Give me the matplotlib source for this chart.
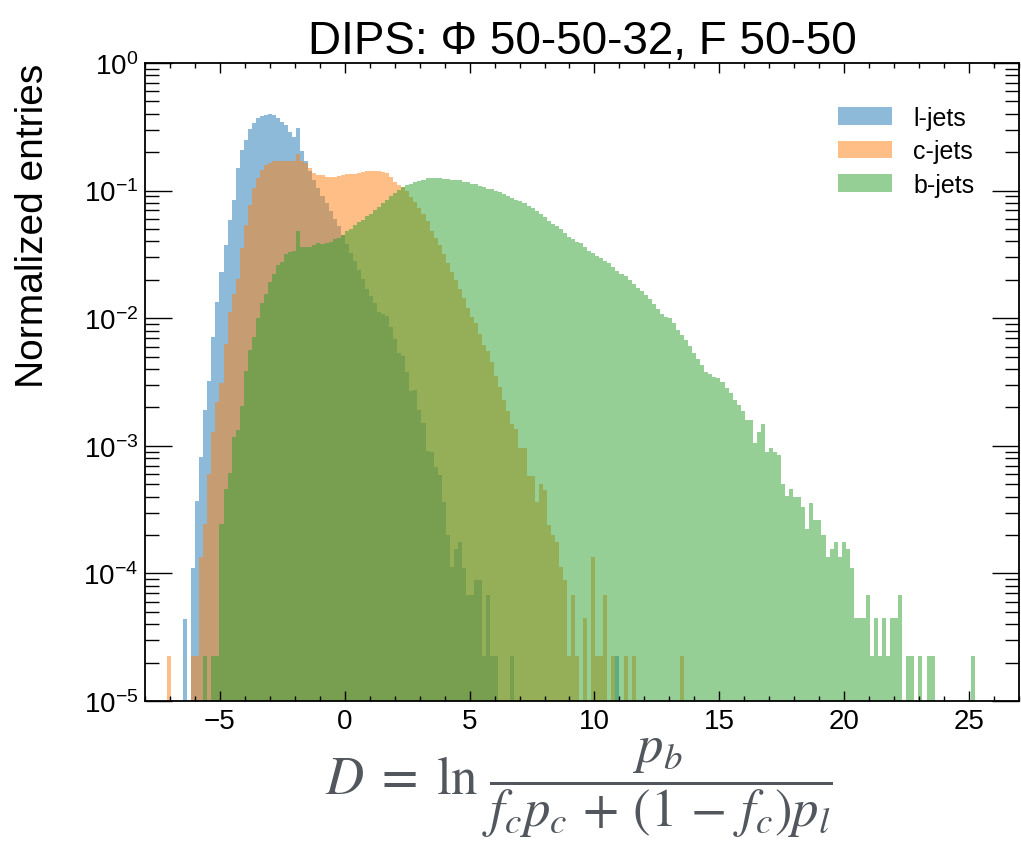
import numpy as np
import matplotlib
matplotlib.use("Agg")
import matplotlib.pyplot as plt
from matplotlib.ticker import MultipleLocator, LogLocator, NullFormatter

plt.rcParams["font.family"] = ["Liberation Sans", "DejaVu Sans"]
plt.rcParams["mathtext.fontset"] = "custom"
plt.rcParams["mathtext.rm"] = "Liberation Sans"
plt.rcParams["mathtext.it"] = "Liberation Sans:italic"
plt.rcParams["mathtext.bf"] = "Liberation Sans:bold"

# 直方图分箱（200 个等宽箱）
BIN_LO, BIN_HI, N_BINS = -7.12, 25.24, 200

# 各类喷注的归一化条目（log10），从第 first 个箱开始连续
l_first = 6
l_log = [
    -3.96, -3.43, -3.09, -2.72, -2.49, -2.15, -1.87, -1.64, -1.43, -1.23,
    -1.07, -0.82, -0.68, -0.60, -0.52, -0.47, -0.43, -0.415, -0.405, -0.40,
    -0.41, -0.43, -0.46, -0.49, -0.54, -0.58, -0.51, -0.69, -0.77, -0.85,
    -0.915, -0.98, -1.04, -1.10, -1.16, -1.22, -1.28, -1.35, -1.42, -1.49,
    -1.55, -1.62, -1.69, -1.77, -1.83, -1.88, -1.95, -1.97, -1.98, -2.07,
    -2.16, -2.27, -2.30, -2.42, -2.57, -2.56, -2.72, -2.82, -3.04, -3.05,
    -3.17, -3.23, -3.44, -3.70, -3.95, -3.81, -3.75, -3.96, -4.17, -4.17,
    -4.05, -4.05, -4.65, -4.17, -4.65, -4.65,
]
l_sparse_bins = [4, 85, 111]
l_sparse_log = [-4.36, -4.65, -4.65]

c_first = 6
c_log = [
    -4.65, -4.65, -3.87, -3.61, -3.22, -2.89, -2.66, -2.51, -2.20, -1.95,
    -1.81, -1.69, -1.45, -1.27, -1.11, -0.98, -0.90, -0.84, -0.80, -0.78,
    -0.77, -0.765, -0.765, -0.77, -0.77, -0.77, -0.71, -0.77, -0.78, -0.82,
    -0.86, -0.875, -0.88, -0.89, -0.89, -0.89, -0.885, -0.877, -0.87, -0.87,
    -0.87, -0.86, -0.857, -0.85, -0.85, -0.845, -0.85, -0.855, -0.86, -0.89,
    -0.93, -0.955, -0.97, -1.00, -1.05, -1.09, -1.14, -1.18, -1.24, -1.32,
    -1.37, -1.43, -1.50, -1.57, -1.64, -1.70, -1.77, -1.84, -1.92, -1.99,
    -2.04, -2.12, -2.21, -2.26, -2.34, -2.45, -2.54, -2.64, -2.73, -2.83,
    -2.87, -3.02, -3.02, -3.24, -3.24, -3.44, -3.30, -3.35, -3.62, -3.70,
    -3.75, -3.95, -4.05, -4.65, -4.17, -4.65,
]
c_sparse_bins = [0, 103, 105, 106, 107, 108, 110, 113, 115, 127]
c_sparse_log = [-4.65, -4.35, -3.87, -4.65, -4.65, -4.17, -4.65, -4.65, -4.65, -4.65]

b_first = 11
b_log = [
    -4.65, -4.65, -3.61, -3.34, -3.21, -2.93, -2.88, -2.69, -2.41, -2.25,
    -2.15, -2.00, -1.88, -1.81, -1.72, -1.65, -1.58, -1.56, -1.50, -1.48,
    -1.47, -1.32, -1.44, -1.44, -1.44, -1.43, -1.41, -1.42, -1.41, -1.40,
    -1.38, -1.37, -1.35, -1.32, -1.30, -1.27, -1.25, -1.23, -1.20, -1.18,
    -1.15, -1.13, -1.10, -1.07, -1.04, -1.02, -0.995, -0.975, -0.96, -0.945,
    -0.935, -0.925, -0.915, -0.905, -0.90, -0.90, -0.905, -0.91, -0.91, -0.915,
    -0.915, -0.92, -0.93, -0.935, -0.945, -0.95, -0.965, -0.975, -0.985, -0.99,
    -1.005, -1.015, -1.03, -1.045, -1.06, -1.07, -1.085, -1.10, -1.12, -1.14,
    -1.16, -1.18, -1.21, -1.24, -1.26, -1.28, -1.30, -1.33, -1.36, -1.38,
    -1.40, -1.41, -1.44, -1.47, -1.49, -1.51, -1.53, -1.55, -1.57, -1.60,
    -1.63, -1.65, -1.67, -1.70, -1.73, -1.76, -1.79, -1.82, -1.85, -1.89,
    -1.93, -1.97, -1.99, -2.00, -2.04, -2.09, -2.13, -2.17, -2.22, -2.27,
    -2.32, -2.37, -2.42, -2.44, -2.46, -2.47, -2.50, -2.55, -2.59, -2.64,
    -2.68, -2.73, -2.80, -2.80, -2.98, -2.89, -2.83, -3.05, -3.02, -3.05,
    -3.07, -3.30, -3.39, -3.34, -3.40, -3.40, -3.48, -3.65, -3.45, -3.58,
    -3.58, -3.70, -3.87, -3.81, -3.75, -3.87, -3.75, -3.81, -3.96, -4.35,
    -4.35, -4.35, -4.17, -4.65, -4.35, -4.65, -4.35, -4.65, -4.35, -4.35,
    -4.17,
]
b_sparse_bins = [9, 183, 184, 186, 188, 189, 199]
b_sparse_log = [-4.65, -4.65, -4.65, -4.65, -4.65, -4.65, -4.65]

labels = ["l-jets", "c-jets", "b-jets"]
colors = ["tab:blue", "tab:orange", "tab:green"]


def to_heights(first, logs, sparse_bins, sparse_logs):
    h = np.zeros(N_BINS)
    h[first:first + len(logs)] = 10.0 ** np.array(logs)
    h[sparse_bins] = 10.0 ** np.array(sparse_logs)
    return h


edges = np.linspace(BIN_LO, BIN_HI, N_BINS + 1)
centers = 0.5 * (edges[:-1] + edges[1:])
series = [
    to_heights(l_first, l_log, l_sparse_bins, l_sparse_log),
    to_heights(c_first, c_log, c_sparse_bins, c_sparse_log),
    to_heights(b_first, b_log, b_sparse_bins, b_sparse_log),
]

fig = plt.figure(figsize=(10.21, 8.45), dpi=100)
ax = fig.add_axes([0.142, 0.1692, 0.856, 0.7551])

for h, lab, col in zip(series, labels, colors):
    ax.hist(centers, bins=edges, weights=h, histtype="stepfilled",
            alpha=0.5, color=col, label=lab, log=True)

ax.set_xlim(-8, 27)
ax.set_ylim(1e-5, 1)
ax.xaxis.set_major_locator(MultipleLocator(5))
ax.xaxis.set_minor_locator(MultipleLocator(1))
ax.yaxis.set_major_locator(LogLocator(base=10, numticks=10))
ax.yaxis.set_minor_locator(LogLocator(base=10, subs=np.arange(2, 10), numticks=20))
ax.yaxis.set_minor_formatter(NullFormatter())

ax.tick_params(which="both", direction="in", top=True, right=True,
               labelsize=20, width=1.0)
ax.tick_params(axis="x", which="major", length=7, pad=5)
ax.tick_params(axis="x", which="minor", length=3.6)
ax.tick_params(axis="y", which="major", length=19.5, pad=5)
ax.tick_params(axis="y", which="minor", length=10)
for sp in ax.spines.values():
    sp.set_linewidth(1.3)

ax.set_title("DIPS: Φ 50-50-32, F 50-50", fontsize=33, pad=6)
ax.set_ylabel("Normalized entries", fontsize=28, loc="top")
ax.yaxis.set_label_coords(-0.108, 1.0)

ax.legend(loc="upper left", bbox_to_anchor=(0.793, 0.933), frameon=False,
          fontsize=18, handlelength=2.15, handleheight=0.7,
          handletextpad=0.85, labelspacing=0.38, borderpad=0, borderaxespad=0)

fig.text(0.567, 0.068,
         r"$D\;=\;\ln\,\dfrac{p_b}{f_c p_c \,+\, (1 \,-\, f_c) p_l}$",
         fontsize=38, color="#52575d", math_fontfamily="stix",
         ha="center", va="center")

fig.savefig("out.png", dpi=100)
